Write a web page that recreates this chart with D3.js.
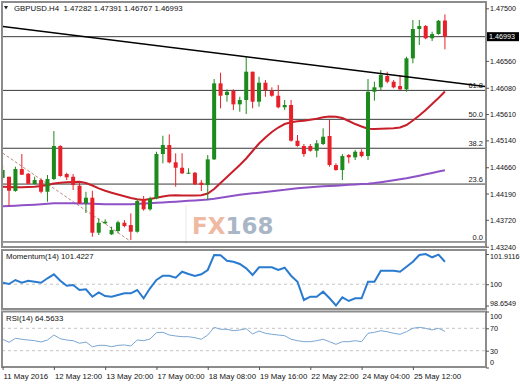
<!DOCTYPE html>
<html>
<head>
<meta charset="utf-8">
<script src="https://cdn.jsdelivr.net/npm/d3@7"></script>
<style>
  body { margin: 0; background: #fff; }
  svg { display: block; font-family: "Liberation Sans", Arial, sans-serif; }
</style>
</head>
<body>
<svg id="chart" width="520" height="384"></svg>
<script>
// GBPUSD H4 candles (index 0 = left edge of the chart)
const opens  = [1.44467,1.4449,1.44235,1.44628,1.44544,1.4436,1.44431,1.44222,1.44449,1.45039,
                1.44539,1.4449,1.4433,1.44015,1.44115,1.4349,1.43658,1.43461,1.4352,1.43668,
                1.43627,1.43508,1.44074,1.43908,1.44104,1.44896,1.45057,1.44748,1.44651,1.44551,
                1.44562,1.44383,1.44342,1.44801,1.46159,1.4595,1.46027,1.45784,1.45861,1.46367,
                1.45831,1.4617,1.46027,1.45938,1.45731,1.45772,1.45134,1.45039,1.45039,1.44955,
                1.45075,1.45218,1.44699,1.4461,1.44878,1.44837,1.44937,1.4486,1.46009,1.46088,
                1.4629,1.46188,1.46111,1.46052,1.46606,1.4713,1.47183,1.46964,1.4704,1.47282];
const highs  = [1.44699,1.4449,1.44669,1.44896,1.44557,1.4449,1.44462,1.44521,1.45307,1.45052,
                1.44562,1.44539,1.44401,1.44222,1.4424,1.43747,1.43729,1.43597,1.43704,1.43717,
                1.43836,1.44087,1.44146,1.44133,1.44937,1.45223,1.45248,1.44909,1.44909,1.44641,
                1.44574,1.44431,1.44878,1.46236,1.46349,1.46052,1.46052,1.4592,1.46635,1.46367,
                1.46277,1.46218,1.46088,1.46129,1.45861,1.45861,1.45236,1.45075,1.45075,1.45146,
                1.45355,1.45504,1.4473,1.44896,1.44896,1.44968,1.4498,1.46236,1.46188,1.46397,
                1.46367,1.46218,1.46308,1.46635,1.47291,1.47291,1.47201,1.47082,1.47291,1.47391];
const lows   = [1.44431,1.43967,1.44222,1.44521,1.44355,1.44355,1.44194,1.44044,1.44431,1.4449,
                1.44431,1.44253,1.44003,1.43842,1.43418,1.43449,1.43645,1.43449,1.43479,1.43586,
                1.43359,1.4349,1.43883,1.43883,1.44087,1.4473,1.4473,1.44312,1.44539,1.44539,
                1.44342,1.44235,1.44074,1.44789,1.45713,1.45831,1.45682,1.45652,1.45611,1.45713,
                1.45741,1.4592,1.4592,1.45713,1.45682,1.45116,1.45027,1.44848,1.44937,1.44837,
                1.45057,1.44669,1.44598,1.44431,1.4473,1.44789,1.44837,1.44789,1.45849,1.4604,
                1.46159,1.4607,1.4604,1.46009,1.46517,1.46844,1.46946,1.46915,1.47028,1.46767];
const closes = [1.4461,1.4424,1.44628,1.44526,1.44365,1.44431,1.44222,1.44449,1.45039,1.44503,
                1.4448,1.44342,1.44015,1.44115,1.4349,1.43668,1.43686,1.43538,1.43676,1.43609,
                1.43508,1.44056,1.43908,1.44104,1.44896,1.45057,1.44748,1.44651,1.44551,1.44562,
                1.44355,1.44342,1.44801,1.46159,1.45938,1.46009,1.45784,1.45861,1.46367,1.45831,
                1.4617,1.4604,1.45938,1.45731,1.45772,1.45134,1.45039,1.44896,1.44955,1.45087,
                1.45205,1.44699,1.4461,1.4486,1.44837,1.44937,1.4486,1.46009,1.46088,1.46308,
                1.46188,1.46088,1.46052,1.46606,1.4713,1.47183,1.46964,1.4704,1.47278,1.46993];

// moving averages
const maFast = [1.44312,1.44306,1.44301,1.44301,1.44306,1.44312,1.44324,1.44342,1.44369,1.44383,
                1.4439,1.44396,1.44401,1.44378,1.44333,1.44283,1.4424,1.44205,1.44172,1.4414,
                1.4411,1.44087,1.44074,1.44092,1.44115,1.44137,1.44154,1.44158,1.44154,1.44154,
                1.44154,1.44158,1.4419,1.44271,1.44378,1.44485,1.44592,1.44699,1.44816,1.4495,
                1.45084,1.45191,1.45289,1.4537,1.45432,1.45463,1.4548,1.45491,1.45509,1.45527,
                1.45552,1.45566,1.45563,1.45539,1.45486,1.45432,1.45387,1.45348,1.45343,1.45348,
                1.45352,1.45355,1.4537,1.45414,1.45495,1.45584,1.45682,1.4579,1.45897,1.46013];
const maSlow = [1.43961,1.43967,1.43972,1.43979,1.43985,1.4399,1.43997,1.44006,1.44015,1.44017,
                1.44017,1.44015,1.44013,1.4401,1.44006,1.44003,1.43999,1.43997,1.43997,1.43997,
                1.43997,1.44003,1.4401,1.44017,1.44024,1.44031,1.44038,1.44045,1.44053,1.4406,
                1.44067,1.44074,1.44083,1.44095,1.44113,1.44131,1.44149,1.44167,1.44181,1.44194,
                1.44206,1.44217,1.4423,1.44244,1.44256,1.44271,1.44283,1.44294,1.44303,1.44312,
                1.44319,1.44324,1.44331,1.44339,1.44346,1.44353,1.4436,1.44367,1.44378,1.44392,
                1.44408,1.44426,1.44444,1.44462,1.44485,1.44508,1.44533,1.44557,1.44583,1.44605];

// indicators
const momentum = [100.096,100.014,100.267,100.096,100.223,100.160,100.096,100.375,100.628,100.223,
                  99.907,99.951,99.635,99.679,99.211,99.489,99.255,99.211,99.318,99.426,
                  99.426,99.635,99.110,99.742,100.267,100.539,100.539,100.413,100.792,100.647,
                  100.520,100.628,100.900,101.85,101.83,101.488,101.425,101.279,101.007,100.583,
                  101.070,101.070,101.070,100.900,101.045,100.539,100.160,99.002,99.211,99.211,
                  99.527,99.110,98.6549,99.173,98.939,99.110,99.110,100.160,100.160,100.856,
                  100.856,100.856,100.792,101.108,101.425,101.85,101.9116,101.703,101.87,101.4227];
const rsi = [50.4,45.0,52.1,50.4,49.1,47.9,45.5,49.1,58.0,51.4,
             49.1,47.9,43.2,45.5,37.1,39.6,39.6,37.1,39.6,40.2,
             38.4,49.1,47.9,50.9,62.1,62.9,58.0,56.3,55.0,55.0,
             53.2,50.4,58.0,71.8,68.2,68.2,65.7,67.0,69.3,59.8,
             65.2,61.1,59.3,58.0,56.8,50.4,47.9,46.1,46.1,47.9,
             50.4,46.1,41.4,46.1,46.1,47.9,46.1,61.1,62.9,65.7,
             63.9,61.1,59.3,63.9,70.0,71.8,70.0,67.0,70.0,64.5633];

// levels and labels
const fibLevels = [1.43324, 1.44359, 1.44999, 1.45516, 1.46033];
const fibLabels = ["0.0", "23.6", "38.2", "50.0", "61.8"];
const lastPrice = 1.46993;
const trendLine = [[0, 1.47175], [75.25, 1.46103]];
const fibTrend = [[0, 1.44914], [19.9, 1.43341]];
const priceTicks = [1.47500, 1.46560, 1.46080, 1.45610, 1.45140, 1.44660, 1.44190, 1.43720, 1.43240];
const momTicks = [101.9116, 100, 98.6549];
const rsiTicks = [100, 70, 30, 0];
const timeTickIdx = [0, 8, 16, 24, 32, 40, 48, 56, 64];
const timeLabels = ["11 May 2016", "12 May 12:00", "13 May 20:00", "17 May 00:00", "18 May 08:00",
                    "19 May 16:00", "22 May 22:00", "24 May 04:00", "25 May 12:00"];

const svg = d3.select("#chart");
const green = "#1c8a1c", red = "#e8202a";

// panels
const main = {top: 2, bottom: 247};
const momP = {top: 250, bottom: 309};
const rsiP = {top: 311.5, bottom: 367};
const left = 2, right = 486;

const x = d3.scaleLinear().domain([0, 75.25]).range([2.6, 485]);
const y = d3.scaleLinear().domain([1.4324, 1.475]).range([246.7, 8.3]);
const yMom = d3.scaleLinear().domain([98.6549, 101.9116]).range([305.5, 254]);
const yRsi = d3.scaleLinear().domain([0, 100]).range([367.5, 311.5]);

const defs = svg.append("defs");
function clip(id, p) {
  defs.append("clipPath").attr("id", id).append("rect")
    .attr("x", left + 1).attr("y", p.top + 1)
    .attr("width", right - left - 2).attr("height", p.bottom - p.top - 2);
}
clip("clipMain", main); clip("clipMom", momP); clip("clipRsi", rsiP);

// watermark
const wm = svg.append("g");
wm.append("line").attr("x1", 186).attr("x2", 186).attr("y1", 205).attr("y2", 244)
  .attr("stroke", "#e8e8e8");
const wmText = wm.append("text").attr("x", 192).attr("y", 233.5)
  .style("font-family", "'DejaVu Sans', sans-serif").style("font-weight", "bold").style("font-size", "23px");
wmText.append("tspan").attr("fill", "#efb9a2").text("FX");
wmText.append("tspan").attr("fill", "#a9b6c6").text("168");

const gMain = svg.append("g").attr("clip-path", "url(#clipMain)");

// fib + price lines
gMain.selectAll(".fib").data(fibLevels).enter().append("line")
  .attr("x1", left).attr("x2", right)
  .attr("y1", d => y(d)).attr("y2", d => y(d))
  .attr("stroke", "#3a3a3a").attr("stroke-width", 1);
gMain.append("line").attr("x1", left).attr("x2", right)
  .attr("y1", y(lastPrice)).attr("y2", y(lastPrice))
  .attr("stroke", "#3a3a3a").attr("stroke-width", 1);
gMain.selectAll(".fibLabel").data(fibLevels).enter().append("text")
  .attr("x", 483).attr("y", d => y(d) - 2)
  .attr("text-anchor", "end").style("font-size", "7.5px").attr("fill", "#222")
  .text((d, i) => fibLabels[i]);

const line = d3.line().x(d => x(d[0])).y(d => y(d[1]));
gMain.append("path").attr("d", line(fibTrend)).attr("fill", "none")
  .attr("stroke", "#b98a80").attr("stroke-width", 1).attr("stroke-dasharray", "3,2");

// moving averages
const maLine = d3.line().x((d, i) => x(i)).y(d => y(d));
gMain.append("path").attr("d", maLine(maSlow)).attr("fill", "none")
  .attr("stroke", "#8e52c6").attr("stroke-width", 2);
gMain.append("path").attr("d", maLine(maFast)).attr("fill", "none")
  .attr("stroke", "#c8202a").attr("stroke-width", 2);

// candles
const candles = opens.map((o, i) => ({i, o, h: highs[i], l: lows[i], c: closes[i]}));
const cg = gMain.selectAll(".candle").data(candles).enter().append("g");
cg.append("line")
  .attr("x1", d => x(d.i)).attr("x2", d => x(d.i))
  .attr("y1", d => y(d.h)).attr("y2", d => y(d.l))
  .attr("stroke", d => d.c >= d.o ? green : red).attr("stroke-width", 1);
cg.append("rect")
  .attr("x", d => x(d.i) - 2).attr("width", 4)
  .attr("y", d => y(Math.max(d.o, d.c)))
  .attr("height", d => Math.max(1, Math.abs(y(d.o) - y(d.c))))
  .attr("fill", d => d.c >= d.o ? green : red);

// trend line on top
gMain.append("path").attr("d", line(trendLine)).attr("fill", "none")
  .attr("stroke", "#000").attr("stroke-width", 1.6);

// momentum panel
const gMom = svg.append("g").attr("clip-path", "url(#clipMom)");
gMom.append("line").attr("x1", left).attr("x2", right)
  .attr("y1", yMom(100)).attr("y2", yMom(100))
  .attr("stroke", "#c4c4c4").attr("stroke-dasharray", "3,3");
gMom.append("path")
  .attr("d", d3.line().x((d, i) => x(i)).y(d => yMom(d))(momentum))
  .attr("fill", "none").attr("stroke", "#2a7bd0").attr("stroke-width", 2);

// rsi panel
const gRsi = svg.append("g").attr("clip-path", "url(#clipRsi)");
gRsi.selectAll(".lvl").data([70, 30]).enter().append("line")
  .attr("x1", left).attr("x2", right)
  .attr("y1", d => yRsi(d)).attr("y2", d => yRsi(d))
  .attr("stroke", "#c4c4c4").attr("stroke-dasharray", "3,3");
gRsi.append("path")
  .attr("d", d3.line().x((d, i) => x(i)).y(d => yRsi(d))(rsi))
  .attr("fill", "none").attr("stroke", "#79a6d2").attr("stroke-width", 1);

// panel frames
[main, momP, rsiP].forEach(p => {
  svg.append("rect").attr("x", left).attr("y", p.top)
    .attr("width", right - left).attr("height", p.bottom - p.top)
    .attr("fill", "none").attr("stroke", "#8c8c8c").attr("stroke-width", 2);
});

// right axes
function rightAxis(scale, ticks, fmt, shift) {
  const g = svg.append("g").attr("transform", `translate(${right},0)`)
    .call(d3.axisRight(scale).tickValues(ticks).tickFormat(fmt).tickSize(3).tickPadding(1));
  g.select(".domain").remove();
  g.selectAll("line").attr("stroke", "#555");
  g.selectAll("text").style("font-size", "7.2px").attr("fill", "#111")
    .attr("dy", (d, i) => (shift[i] || 0) + 2.5);
  return g;
}
rightAxis(y, priceTicks, d3.format(".5f"), []);
rightAxis(yMom, momTicks, (d, i) => ["101.9116", "100", "98.6549"][i], [2, 0, -2.5]);
rightAxis(yRsi, rsiTicks, d3.format("d"), [4, 0, 0, -5.5]);

// current price tag
svg.append("rect").attr("x", 487).attr("y", y(lastPrice) - 4.5)
  .attr("width", 32).attr("height", 9).attr("fill", "#000");
svg.append("text").attr("x", 489).attr("y", y(lastPrice) + 2.7)
  .style("font-size", "7.2px").attr("fill", "#fff").text(d3.format(".5f")(lastPrice));

// time axis
const xa = svg.append("g").attr("transform", `translate(0,${rsiP.bottom})`)
  .call(d3.axisBottom(x).tickValues(timeTickIdx).tickFormat((d, i) => timeLabels[i]).tickSize(3).tickPadding(3));
xa.select(".domain").remove();
xa.selectAll("line").attr("stroke", "#555");
xa.selectAll("text").attr("text-anchor", "start").attr("dx", 0.5)
  .style("font-size", "7.8px").attr("fill", "#111");

// titles
svg.append("path").attr("d", "M4,6 L8,6 L6,9.5 Z").attr("fill", "#222");
svg.append("text").attr("x", 14).attr("y", 11).style("font-size", "7.8px").attr("fill", "#111")
  .text("GBPUSD.H4  1.47282 1.47391 1.46767 1.46993").attr("xml:space", "preserve")
  .style("white-space", "pre");
svg.append("text").attr("x", 6).attr("y", 259).style("font-size", "7.8px").attr("fill", "#111")
  .text("Momentum(14) 101.4227");
svg.append("text").attr("x", 6).attr("y", 321).style("font-size", "7.8px").attr("fill", "#111")
  .text("RSI(14) 64.5633");
</script>
</body>
</html>
